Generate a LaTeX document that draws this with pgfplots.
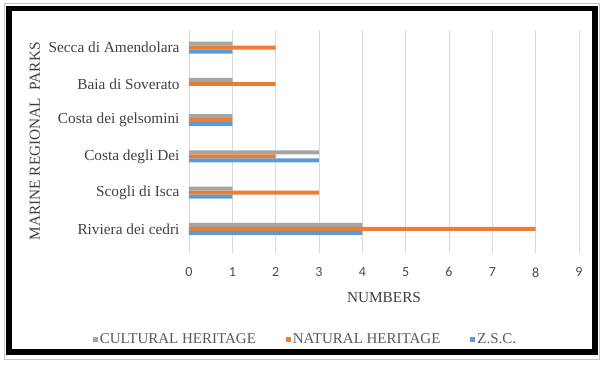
\documentclass[border=0pt]{standalone}
\usepackage{pgfplots}
\pgfplotsset{compat=1.18}
\usepackage{fontspec}
\setmainfont{Liberation Serif}
\newfontfamily\carlito{Carlito}
\definecolor{cgrey}{HTML}{A5A5A5}
\definecolor{corange}{HTML}{ED7D31}
\definecolor{cblue}{HTML}{5B9BD5}
\definecolor{gridc}{HTML}{D9D9D9}
\definecolor{txtc}{HTML}{404040}
\definecolor{tickc}{HTML}{595959}
\begin{document}
\begin{tikzpicture}
\path[fill=white] (0,0) rectangle (611pt,366pt);
\draw[color=black!22, line width=1pt] (4pt,6.7pt) rectangle (599.5pt,362pt);
\draw[line width=5.5pt] (8.75pt,13.75pt) rectangle (595pt,357.25pt);
\begin{axis}[
  at={(189pt,113pt)}, anchor=south west,
  scale only axis, width=390pt, height=223.4pt,
  xbar, bar width=4pt,
  xmin=0, xmax=9, ymin=-0.663, ymax=5.5,
  xtick={0,1,...,9}, ytick={0,1,...,5},
  yticklabels={Riviera dei cedri, Scogli di Isca, Costa degli Dei, Costa dei gelsomini, Baia di Soverato, Secca di Amendolara},
  xmajorgrids, major grid style={color=gridc, line width=0.9pt},
  axis line style={draw=none},
  major tick length=0pt,
  /pgf/number format/assume math mode=true,
  xticklabel style={font=\carlito\fontsize{14}{16}\selectfont, text=tickc!85!black, yshift=-11pt},
  yticklabel style={font=\fontsize{15.3}{18}\selectfont, text=txtc, xshift=-6pt},
  xlabel={NUMBERS},
  xlabel style={at={(axis description cs:0.5,-0.2014)}, anchor=center, font=\fontsize{15.3}{18}\selectfont, text=txtc},
  ylabel={MARINE REGIONAL\ \ PARKS},
  ylabel style={at={(axis description cs:-0.395,0.5)}, anchor=center, font=\fontsize{15.3}{18}\selectfont, text=txtc},
  legend columns=3,
  legend style={at={(axis description cs:0.2987,-0.385)}, anchor=center, draw=none, fill=none,
    font=\fontsize{15}{18}\selectfont, text=tickc,
    /tikz/every even column/.append style={column sep=28pt}},
  legend image code/.code={\fill[#1] (0pt,-2.5pt) rectangle (5pt,2.5pt);},
]
\addplot[fill=cgrey, draw=none, bar shift=4pt] coordinates {(4,0) (1,1) (3,2) (1,3) (1,4) (1,5)};
\addlegendentry{CULTURAL HERITAGE}
\addplot[fill=corange, draw=none, bar shift=0pt] coordinates {(8,0) (3,1) (2,2) (1,3) (2,4) (2,5)};
\addlegendentry{NATURAL HERITAGE}
\addplot[fill=cblue, draw=none, bar shift=-4pt] coordinates {(4,0) (1,1) (3,2) (1,3) (0,4) (1,5)};
\addlegendentry{Z.S.C.}
\end{axis}
\end{tikzpicture}
\end{document}
